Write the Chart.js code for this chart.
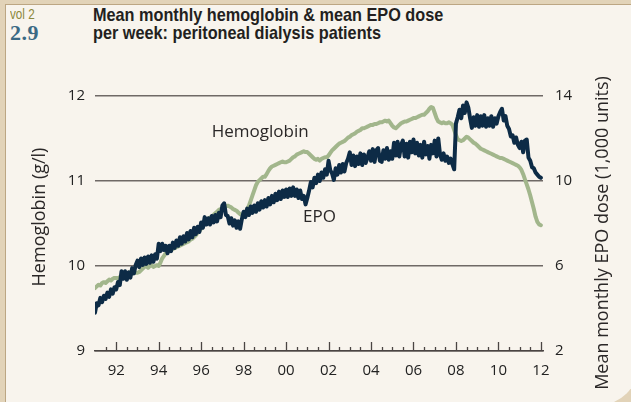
<!DOCTYPE html>
<html>
<head>
<meta charset="utf-8">
<script src="https://cdn.jsdelivr.net/npm/chart.js@4.4.1/dist/chart.umd.min.js"></script>
<style>
  html, body { margin: 0; padding: 0; }
  body { width: 631px; height: 402px; overflow: hidden; background: #e2d3b8; position: relative; font-family: "Open Sans", sans-serif; }
  #panel { position: absolute; left: 5px; top: 4px; width: 632px; height: 400px; background: #f8f4ed;
           border-left: 1.5px solid #bca683; border-top: 1.5px solid #bca683; border-bottom-right-radius: 39px; }
  #vol { position: absolute; left: 10px; top: 5px; font: 15px "Liberation Sans", sans-serif; color: #8b883b;
         transform: scaleX(0.78); transform-origin: left top; }
  #num { position: absolute; left: 10px; top: 20px; font: bold 22px "Liberation Serif", serif; color: #3b6984; letter-spacing: 0.5px; }
  #title { position: absolute; left: 93px; top: 6px; font: bold 19px "Liberation Sans", sans-serif; white-space: nowrap;
           line-height: 18px; color: #231f20; transform: scaleX(0.855); transform-origin: left top; }
  canvas { position: absolute; left: 0; top: 0; }
</style>
</head>
<body>
<div id="panel"></div>
<div id="vol">vol 2</div>
<div id="num">2.9</div>
<div id="title">Mean monthly hemoglobin &amp; mean EPO dose<br>per week: peritoneal dialysis patients</div>
<canvas id="chart" width="631" height="402"></canvas>
<script>
// monthly series, January 1991 to January 2012
const START_YEAR = 1991;

// mean hemoglobin (g/dl), left axis
const hemoglobin = [
  9.74, 9.76, 9.78, 9.77, 9.80, 9.81, 9.80, 9.82, 9.84, 9.83, 9.85, 9.86, // 91
  9.86, 9.85, 9.87, 9.88, 9.86, 9.89, 9.90, 9.92, 9.93, 9.91, 9.93, 9.92, // 92
  9.92, 9.93, 9.95, 9.97, 9.99, 10.00, 9.98, 10.00, 10.01, 9.99, 10.00, 10.01, // 93
  10.00, 10.04, 10.09, 10.12, 10.15, 10.17, 10.18, 10.19, 10.20, 10.21, 10.22, 10.23, // 94
  10.24, 10.25, 10.26, 10.27, 10.28, 10.29, 10.31, 10.32, 10.34, 10.36, 10.39, 10.41, // 95
  10.44, 10.47, 10.50, 10.53, 10.55, 10.57, 10.58, 10.60, 10.62, 10.64, 10.66, 10.67, // 96
  10.68, 10.69, 10.70, 10.71, 10.70, 10.69, 10.67, 10.66, 10.65, 10.63, 10.61, 10.60, // 97
  10.61, 10.63, 10.67, 10.71, 10.77, 10.83, 10.89, 10.95, 10.99, 11.01, 11.03, 11.05, // 98
  11.05, 11.08, 11.12, 11.15, 11.17, 11.18, 11.19, 11.20, 11.21, 11.22, 11.23, 11.22, // 99
  11.22, 11.23, 11.24, 11.26, 11.28, 11.29, 11.31, 11.32, 11.33, 11.34, 11.35, 11.34, // 00
  11.34, 11.32, 11.30, 11.28, 11.26, 11.25, 11.26, 11.24, 11.26, 11.27, 11.28, 11.28, // 01
  11.30, 11.33, 11.36, 11.38, 11.40, 11.42, 11.44, 11.45, 11.46, 11.47, 11.49, 11.51, // 02
  11.52, 11.54, 11.55, 11.56, 11.58, 11.59, 11.60, 11.62, 11.62, 11.63, 11.64, 11.65, // 03
  11.66, 11.66, 11.67, 11.67, 11.68, 11.69, 11.69, 11.70, 11.71, 11.70, 11.71, 11.68, // 04
  11.65, 11.63, 11.62, 11.64, 11.66, 11.68, 11.69, 11.70, 11.70, 11.71, 11.72, 11.73, // 05
  11.74, 11.74, 11.75, 11.76, 11.77, 11.78, 11.78, 11.80, 11.82, 11.85, 11.87, 11.86, // 06
  11.80, 11.74, 11.70, 11.69, 11.68, 11.69, 11.68, 11.68, 11.69, 11.68, 11.66, 11.60, // 07
  11.54, 11.49, 11.48, 11.47, 11.48, 11.50, 11.52, 11.51, 11.49, 11.47, 11.45, 11.44, // 08
  11.42, 11.40, 11.38, 11.37, 11.36, 11.35, 11.34, 11.33, 11.32, 11.31, 11.30, 11.29, // 09
  11.28, 11.27, 11.27, 11.26, 11.25, 11.24, 11.23, 11.22, 11.21, 11.20, 11.19, 11.18, // 10
  11.16, 11.13, 11.08, 11.02, 10.96, 10.90, 10.83, 10.75, 10.67, 10.58, 10.52, 10.49, // 11
  10.48 // 12
];

// mean monthly EPO dose per week (1,000 units), right axis
const epo = [
  3.80, 4.25, 4.15, 4.50, 4.30, 4.60, 4.45, 4.75, 4.55, 4.90, 4.70, 5.00, // 91
  4.90, 5.25, 5.10, 5.75, 5.40, 5.75, 5.35, 5.70, 5.45, 5.90, 5.65, 6.05, // 92
  6.25, 5.95, 6.35, 6.05, 6.40, 6.10, 6.45, 6.15, 6.50, 6.20, 6.55, 6.35, // 93
  7.05, 6.70, 7.05, 6.75, 6.95, 6.60, 6.95, 6.70, 7.10, 6.85, 7.20, 6.95, // 94
  7.35, 7.05, 7.40, 7.15, 7.55, 7.25, 7.65, 7.35, 7.80, 7.50, 7.85, 7.60, // 95
  8.05, 7.80, 8.30, 7.95, 8.25, 7.95, 8.35, 8.05, 8.40, 8.10, 8.50, 8.30, // 96
  8.85, 8.95, 8.40, 8.35, 8.00, 8.25, 7.90, 8.15, 7.80, 8.10, 7.75, 8.20, // 97
  8.55, 8.30, 8.70, 8.40, 8.80, 8.50, 8.85, 8.55, 8.95, 8.65, 9.05, 8.75, // 98
  9.10, 8.80, 9.20, 8.90, 9.30, 9.00, 9.40, 9.10, 9.50, 9.15, 9.55, 9.25, // 99
  9.60, 9.25, 9.65, 9.30, 9.70, 9.30, 9.60, 9.20, 9.55, 9.15, 9.30, 8.90, // 00
  9.20, 9.55, 9.95, 9.70, 10.15, 9.90, 10.30, 10.00, 10.40, 10.15, 10.55, 10.30, // 01
  10.95, 10.50, 10.35, 10.05, 10.60, 10.30, 10.75, 10.40, 10.80, 10.45, 10.85, 11.05, // 02
  11.35, 10.75, 11.20, 10.70, 11.15, 10.80, 11.30, 10.75, 11.25, 10.85, 11.10, 11.40, // 03
  10.95, 11.50, 10.90, 11.45, 11.55, 10.95, 10.90, 11.45, 11.05, 11.55, 11.00, 11.40, // 04
  11.05, 11.80, 11.20, 11.85, 11.15, 11.70, 11.90, 11.15, 11.75, 11.10, 11.85, 11.35, // 05
  11.95, 11.30, 11.80, 11.20, 11.70, 11.10, 11.85, 11.25, 11.65, 11.05, 11.70, 11.30, // 06
  11.90, 11.15, 12.00, 11.25, 11.00, 11.30, 10.95, 11.15, 10.85, 11.05, 10.80, 10.55, // 07
  12.70, 13.00, 13.35, 12.95, 13.55, 13.20, 13.70, 13.45, 12.95, 12.50, 13.00, 12.60, // 08
  13.10, 12.55, 13.05, 12.60, 13.10, 12.55, 12.95, 12.60, 13.05, 12.55, 12.95, 12.70, // 09
  13.05, 13.25, 13.40, 12.85, 13.05, 12.60, 12.45, 12.10, 12.15, 11.80, 12.05, 11.70, // 10
  11.55, 11.85, 11.35, 11.90, 11.95, 11.10, 10.95, 10.65, 10.60, 10.40, 10.30, 10.20, // 11
  10.15 // 12
];

const yearTicks = [1992, 1994, 1996, 1998, 2000, 2002, 2004, 2006, 2008, 2010, 2012];
const hgbTicks = [9, 10, 11, 12];
const epoTicks = [2, 6, 10, 14];

const FONT = '"Open Sans", sans-serif';
const toPoints = arr => arr.map((v, i) => ({ x: START_YEAR + i / 12, y: v }));

// small upward tick marks on the time axis, plus line labels and axis titles
const decor = {
  id: 'decor',
  afterDatasetsDraw(chart) {
    const { ctx, chartArea, scales } = chart;
    const x = scales.x, yl = scales.yHgb;
    ctx.save();
    ctx.strokeStyle = '#4a4543';
    ctx.lineWidth = 1.3;
    for (let t = 1991.5; t <= 2012.01; t += 0.5) {
      const px = Math.round(x.getPixelForValue(t)) + 0.5;
      const len = (t % 2 === 0) ? 9 : 4;
      ctx.beginPath();
      ctx.moveTo(px, chartArea.bottom);
      ctx.lineTo(px, chartArea.bottom - len);
      ctx.stroke();
    }
    ctx.fillStyle = '#2a2727';
    ctx.font = '17px ' + FONT;
    ctx.textBaseline = 'alphabetic';
    ctx.textAlign = 'left';
    ctx.fillText('Hemoglobin', x.getPixelForValue(1996.5), yl.getPixelForValue(11.52));
    ctx.fillText('EPO', x.getPixelForValue(2000.8), yl.getPixelForValue(10.52));

    ctx.font = '18px ' + FONT;
    ctx.textAlign = 'center';
    ctx.textBaseline = 'middle';
    ctx.translate(40, 217);
    ctx.rotate(-Math.PI / 2);
    ctx.fillText('Hemoglobin (g/l)', 0, 0);
    ctx.restore();
    ctx.save();
    ctx.fillStyle = '#2a2727';
    ctx.font = '18px ' + FONT;
    ctx.textAlign = 'center';
    ctx.textBaseline = 'middle';
    ctx.translate(603, 233);
    ctx.rotate(-Math.PI / 2);
    ctx.fillText('Mean monthly EPO dose (1,000 units)', 0, 0);
    ctx.restore();
  }
};

new Chart(document.getElementById('chart'), {
  type: 'line',
  data: {
    datasets: [
      { label: 'EPO', data: toPoints(epo), yAxisID: 'yEpo', borderColor: '#0d2b46', borderWidth: 4,
        pointRadius: 0, tension: 0, borderJoinStyle: 'round', borderCapStyle: 'round' },
      { label: 'Hemoglobin', data: toPoints(hemoglobin), yAxisID: 'yHgb', borderColor: '#a2b68c', borderWidth: 4,
        pointRadius: 0, tension: 0, borderJoinStyle: 'round', borderCapStyle: 'round' }
    ]
  },
  options: {
    responsive: false,
    devicePixelRatio: 1,
    animation: false,
    layout: { padding: { top: 96, left: 0, right: 0, bottom: 0 } },
    plugins: { legend: { display: false }, tooltip: { enabled: false } },
    scales: {
      x: {
        type: 'linear', min: 1991, max: 2012.1,
        afterBuildTicks: s => { s.ticks = yearTicks.map(v => ({ value: v })); },
        afterFit: s => { s.height = 51; },
        grid: { display: false, drawTicks: false },
        border: { display: true, color: '#4a4543', width: 1.5 },
        ticks: { padding: 11, color: '#222', font: { family: FONT, size: 15 }, maxRotation: 0, autoSkip: false,
                 callback: v => String(v % 100).padStart(2, '0') }
      },
      yHgb: {
        position: 'left', min: 9, max: 12,
        afterBuildTicks: s => { s.ticks = hgbTicks.map(v => ({ value: v })); },
        afterFit: s => { s.width = 95; },
        grid: { color: '#6f6966', lineWidth: 1.5, drawTicks: false },
        border: { display: false },
        ticks: { padding: 10, color: '#222', font: { family: FONT, size: 15 } }
      },
      yEpo: {
        position: 'right', min: 2, max: 14,
        afterBuildTicks: s => { s.ticks = epoTicks.map(v => ({ value: v })); },
        afterFit: s => { s.width = 88; },
        grid: { display: false, drawTicks: false },
        border: { display: false },
        ticks: { padding: 12, color: '#222', font: { family: FONT, size: 15 } }
      }
    }
  },
  plugins: [decor]
});
</script>
</body>
</html>
